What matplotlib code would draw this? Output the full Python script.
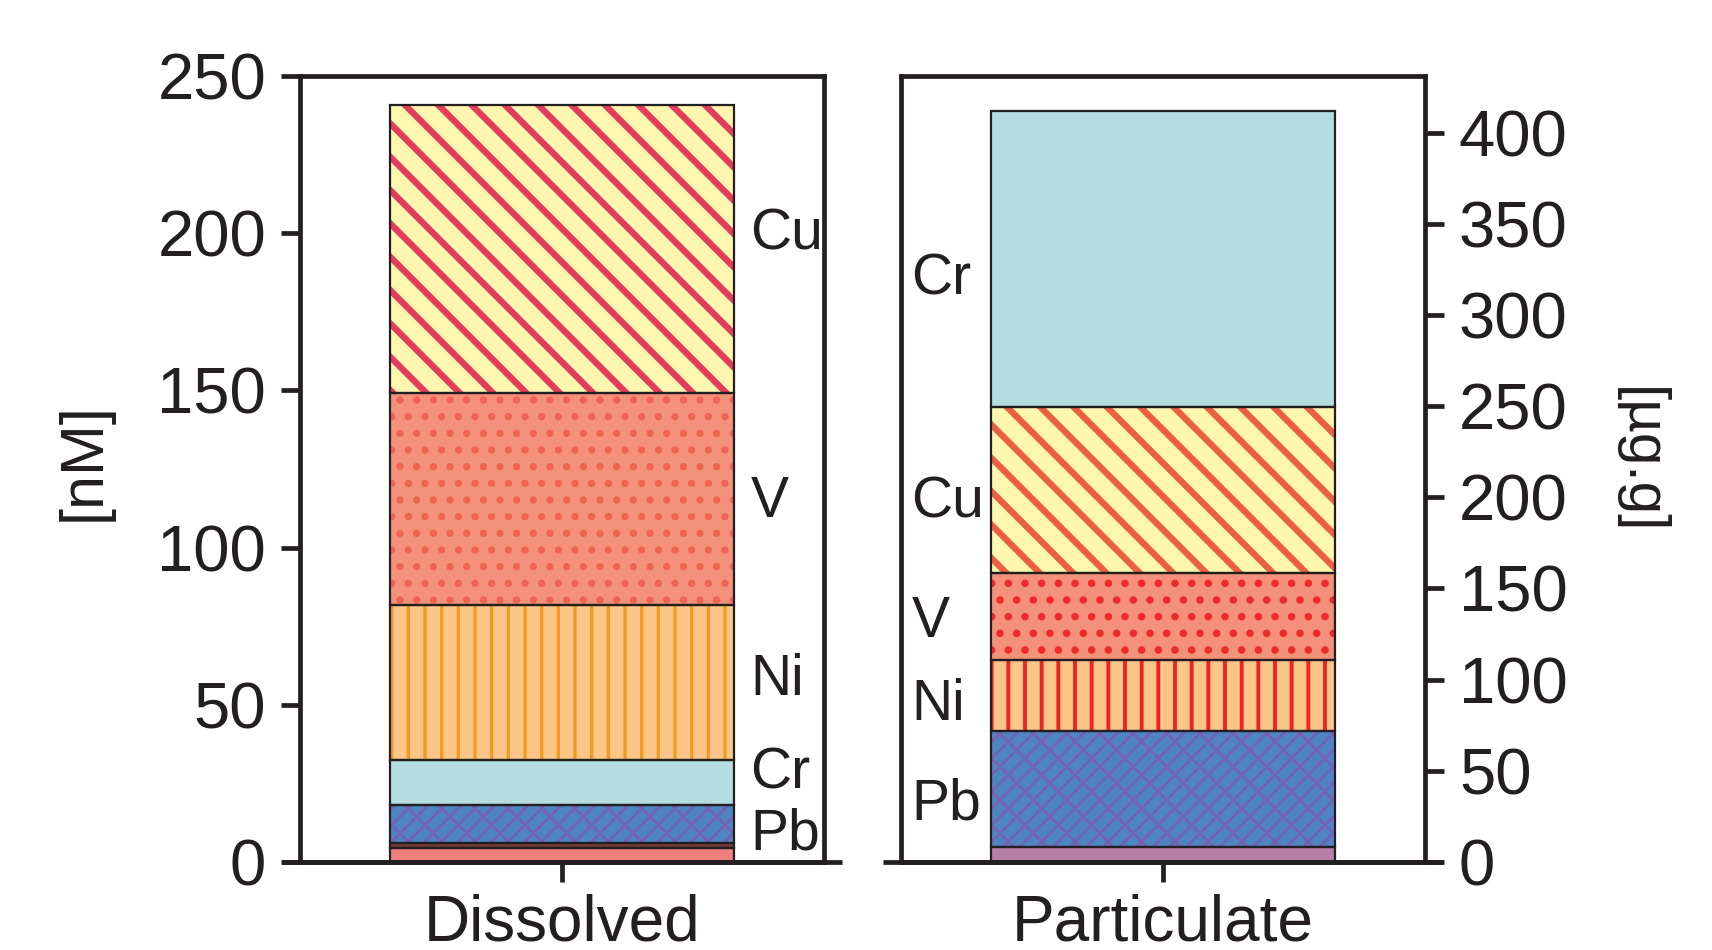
import matplotlib
matplotlib.use('Agg')
import matplotlib.pyplot as plt
import numpy as np

plt.rcParams['font.family'] = ['Liberation Sans', 'DejaVu Sans']

# dissolved fraction [nM], stacked bottom -> top
diss_names = ['rest', 'rest2', 'Pb', 'Cr', 'Ni', 'V', 'Cu']
diss_values = [4.5, 1.4, 12.3, 14.2, 49.4, 67.4, 91.7]
diss_labels = ['', '', 'Pb', 'Cr', 'Ni', 'V', 'Cu']
diss_label_y = [0, 0, 8.6, 28.3, 57.9, 114.5, 199.7]

# particulate fraction [ug/g], stacked bottom -> top
part_names = ['rest', 'Pb', 'Ni', 'V', 'Cu', 'Cr']
part_values = [8, 64, 39, 47.5, 91, 162.5]
part_labels = ['', 'Pb', 'Ni', 'V', 'Cu', 'Cr']
part_label_y = [0, 31.5, 85.9, 131.4, 197.4, 319.4]

# style per element for each panel: face, hatch, hatch colour, hatch lw
diss_style = {
    'rest':  ('#ef7f7c', None, None, 0),
    'rest2': ('#7a3b3b', None, None, 0),
    'Pb':    ('#4f84c4', '////\\\\', '#7561b3', 1.0),
    'Cr':    ('#b3dde0', None, None, 0),
    'Ni':    ('#fcc688', '||', '#f49a22', 1.2),
    'V':     ('#f4917a', '..', '#ee6450', 1.4),
    'Cu':    ('#fff6b0', '\\\\', '#e43c5c', 2.3),
}
part_style = {
    'rest':  ('#b87ea8', None, None, 0),
    'Pb':    ('#4f84c4', '////\\\\', '#7561b3', 1.0),
    'Ni':    ('#fcc688', '||', '#ee2424', 1.4),
    'V':     ('#f4917a', '..', '#ee2a2a', 1.5),
    'Cu':    ('#fff6b0', '\\\\', '#ea6040', 2.3),
    'Cr':    ('#b3dde0', None, None, 0),
}

INK = '#231f20'
BAR_W = 1.316
SPINE_LW = 1.7


def draw_segment(ax, bottom, height, style):
    face, hatch, hcol, hlw = style
    ax.bar(0, height, BAR_W, bottom=bottom, color=face, linewidth=0, zorder=2)
    if hatch:
        with plt.rc_context({'hatch.linewidth': hlw}):
            bars = ax.bar(0, height, BAR_W, bottom=bottom, facecolor='none',
                          edgecolor=hcol, hatch=hatch, linewidth=0, zorder=3)
        for p in bars:
            try:
                p.set_hatch_linewidth(hlw)
            except AttributeError:
                pass
    ax.bar(0, height, BAR_W, bottom=bottom, facecolor='none',
           edgecolor=INK, linewidth=0.8, zorder=4)


def stack(ax, names, values, style):
    bottoms = np.concatenate([[0], np.cumsum(values)[:-1]])
    for n, b, v in zip(names, bottoms, values):
        draw_segment(ax, b, v, style[n])


def frame(ax, ymax, side):
    ax.set_xlim(-1, 1)
    ax.set_ylim(0, ymax)
    for s in ax.spines.values():
        s.set_linewidth(SPINE_LW)
        s.set_color(INK)
    ax.tick_params(axis='y', direction='out', length=6.7, width=SPINE_LW,
                   pad=5.5, labelsize=23.5, color=INK, labelcolor=INK)
    ax.tick_params(axis='x', direction='out', length=7.2, width=SPINE_LW,
                   pad=4, labelsize=23, color=INK, labelcolor=INK)
    if side == 'right':
        ax.yaxis.tick_right()
        ax.yaxis.set_label_position('right')
    # bottom line running past both side spines
    ax.plot([-0.034, 1.034], [0, 0], transform=ax.transAxes, color=INK,
            lw=SPINE_LW, clip_on=False, solid_capstyle='butt', zorder=5)


fig = plt.figure(figsize=(8.56, 4.75), dpi=200)
ax1 = fig.add_axes([0.1752, 0.0926, 0.3061, 0.8274])
ax2 = fig.add_axes([0.5263, 0.0926, 0.3061, 0.8274])

stack(ax1, diss_names, diss_values, diss_style)
frame(ax1, 250, 'left')
ax1.set_yticks([0, 50, 100, 150, 200, 250])
ax1.set_xticks([0])
ax1.set_xticklabels(['Dissolved'])
ax1.set_ylabel('[nM]', fontsize=22, color=INK)
ax1.yaxis.set_label_coords(-0.358, 0.51)
for lab, y in zip(diss_labels, diss_label_y):
    if lab:
        ax1.text(0.72, y, lab, fontsize=20.5, va='center', ha='left', color=INK)

stack(ax2, part_names, part_values, part_style)
frame(ax2, 431, 'right')
ax2.set_yticks([0, 50, 100, 150, 200, 250, 300, 350, 400])
ax2.set_xticks([0])
ax2.set_xticklabels(['Particulate'])
ax2.set_ylabel('[µg.g]', fontsize=21, rotation=270, color=INK)
ax2.yaxis.set_label_coords(1.462, 0.51)
for lab, y in zip(part_labels, part_label_y):
    if lab:
        ax2.text(-0.96, y, lab, fontsize=20.5, va='center', ha='left', color=INK)

fig.savefig('out.png', dpi=200)
